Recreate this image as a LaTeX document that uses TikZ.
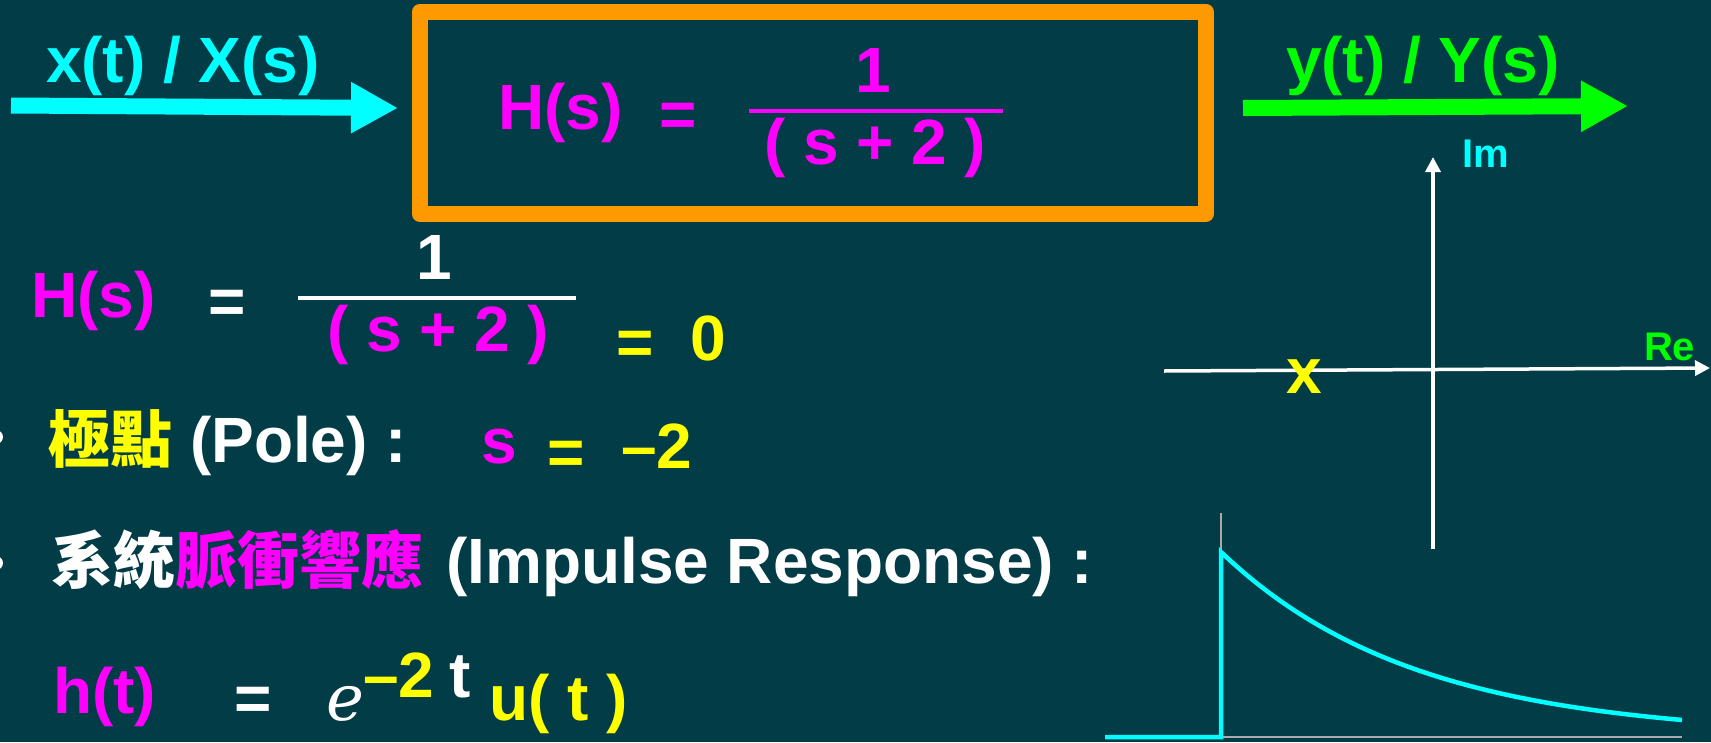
\documentclass[tikz,border=0pt]{standalone}
\usepackage{fontspec}
\setmainfont{Liberation Sans}
\newfontfamily\cjk{Noto Sans CJK TC}
\newfontfamily\eserif{DejaVu Serif}
\usetikzlibrary{arrows.meta}
\definecolor{bg}{RGB}{1,60,71}
\definecolor{cy}{RGB}{0,255,255}
\definecolor{gr}{RGB}{0,255,0}
\definecolor{mg}{RGB}{255,0,255}
\definecolor{yl}{RGB}{255,255,0}
\definecolor{org}{RGB}{255,153,0}
\definecolor{axgray}{RGB}{170,170,170}
\tikzset{
  lbl/.style={inner sep=0pt, outer sep=0pt, anchor=base west, font=\bfseries\fontsize{64}{72}\selectfont},
  eqsign/.style={inner sep=0pt, outer sep=0pt, anchor=base, font=\bfseries\fontsize{64}{72}\selectfont},
  cjktxt/.style={inner sep=0pt, outer sep=0pt, anchor=base west, font=\cjk\bfseries\fontsize{62}{70}\selectfont},
  smalllbl/.style={inner sep=0pt, outer sep=0pt, anchor=base west, font=\bfseries\fontsize{40}{44}\selectfont},
  fatarrow/.style={line width=16pt, -{Triangle[length=47pt,width=48pt]}},
  axisline/.style={white, line width=3.5pt, -{Triangle[length=15pt,width=15pt]}},
  fracbar/.style={line width=4pt},
  boxstyle/.style={draw=org, line width=16pt, line join=round, inner sep=0pt},
  bulletdot/.style={fill=white},
}
\begin{document}
\begin{tikzpicture}[x=1pt,y=-1pt]
\useasboundingbox (0,0) rectangle (1711,742);
\fill[bg] (0,0) rectangle (1711,742);

% block
\node[boxstyle, minimum width=785.5pt, minimum height=202.5pt] (box) at (812.75,112.75) {};

% input / output arrows
\coordinate (inS) at (11,105.5);
\coordinate (inE) at (398,108);
\draw[fatarrow, cy] (inS) -- (inE);
\coordinate (outS) at (1243,108);
\coordinate (outE) at (1628,106);
\draw[fatarrow, gr] (outS) -- (outE);
\node[lbl, text=cy] (xlab) at (46,82) {x(t) / X(s)};
\node[lbl, text=gr] (ylab) at (1286,82) {y(t) / Y(s)};

% transfer function in box
\node[lbl, text=mg] (bH) at (498,129) {H(s)};
\node[eqsign, text=mg] (bEq) at (678,136) {=};
\node[lbl, text=mg] (bOne) at (855,92) {1};
\coordinate (bBarL) at (749,111);
\coordinate (bBarR) at (1003,111);
\draw[fracbar, mg] (bBarL) -- (bBarR);
\node[lbl, text=mg] (bDen) at (764,164) {( s + 2 )};

% second equation
\node[lbl, text=mg] (rH) at (31,317) {H(s)};
\node[eqsign, text=white] (rEq) at (227,323) {=};
\node[lbl, text=white] (rOne) at (416,279) {1};
\coordinate (rBarL) at (298,298);
\coordinate (rBarR) at (576,298);
\draw[fracbar, white] (rBarL) -- (rBarR);
\node[lbl, text=mg] (rDen) at (327,351) {( s + 2 )};
\node[eqsign, text=yl] (rEq2) at (635,364) {=};
\node[lbl, text=yl] (rZero) at (690,360) {0};

% pole line
\fill[bulletdot] (-4,437) circle (7);
\node[cjktxt, text=yl] (pCJK) at (48,462) {極點};
\node[lbl, text=white] (pPole) at (190,462) {(Pole) :};
\node[lbl, text=mg] (pS) at (481,463) {s};
\node[eqsign, text=yl] (pEq) at (566,474) {=};
\node[lbl, text=yl] (pVal) at (621,468) {–2};

% impulse response line
\fill[bulletdot] (-4,563) circle (7);
\node[cjktxt] (qCJK) at (51,583) {\textcolor{white}{系統}\textcolor{mg}{脈衝響應}};
\node[lbl, text=white] (qIR) at (446,583) {(Impulse Response) :};

% h(t)
\node[lbl, text=mg] (hH) at (53,713) {h(t)};
\node[eqsign, text=white] (hEq) at (253,720) {=};
\node[inner sep=0pt, anchor=base west, font=\eserif\itshape\fontsize{64}{70}\selectfont, text=white] (hE) at (326,720) {e};
\node[lbl, text=yl] (hExp) at (363,697) {–2};
\node[lbl, text=white] (hT) at (449,697) {t};
\node[lbl, text=yl] (hU) at (489,720) {u( t )};

% s-plane
\coordinate (imB) at (1433,549);
\coordinate (imT) at (1433,157);
\coordinate (reL) at (1164,371);
\coordinate (reR) at (1710,368);
\draw[axisline] (reL) -- (reR);
\draw[axisline] (imB) -- (imT);
\node[smalllbl, text=cy] (imLab) at (1462,167) {Im};
\node[smalllbl, text=gr] (reLab) at (1644,360) {Re};
\node[lbl, text=yl] (poleX) at (1286,393) {x};

% impulse response plot
\coordinate (org0) at (1221,737);
\coordinate (vTop) at (1221,513);
\coordinate (hEnd) at (1682,737);
\coordinate (cStart) at (1105,737);
\coordinate (peak) at (1221,552);
\draw[axgray, line width=1.5pt] (vTop) -- (org0) -- (hEnd);
\draw[cy, line width=4.5pt] (cStart) -- (org0) -- (peak)
  -- plot[domain=0:461, samples=80] ({1221+\x},{737-185*exp(-0.00518*\x)});
\end{tikzpicture}
\end{document}
